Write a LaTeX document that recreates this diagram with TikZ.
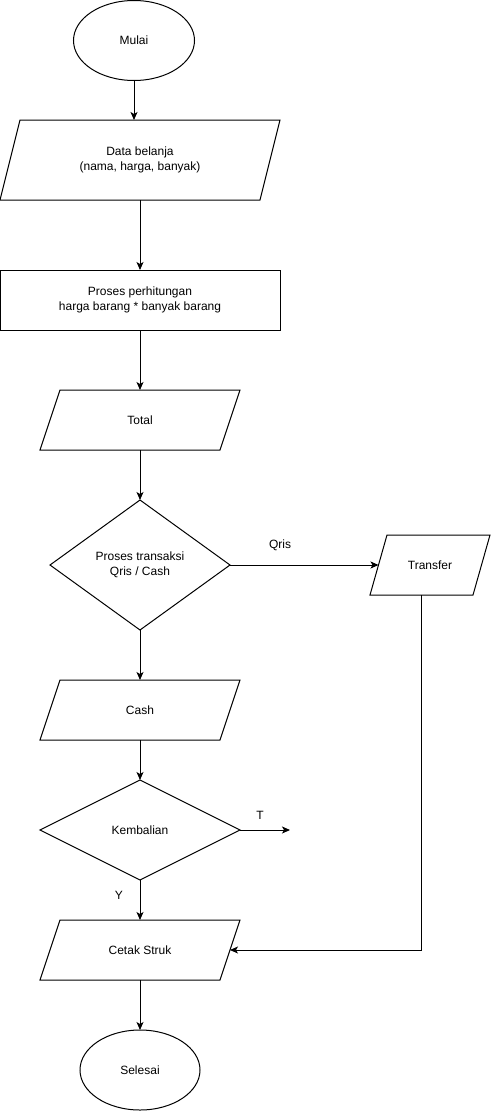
\documentclass[tikz,border=0pt]{standalone}
\usepackage{fontspec}
\setmainfont{Liberation Sans}
\usetikzlibrary{shapes.geometric,arrows.meta}
\newcommand\drawpara[2]{\draw[shapeline] ([xshift=#2]#1.north west) -- ([xshift=#2]#1.north east) -- ([xshift=-#2]#1.south east) -- ([xshift=-#2]#1.south west) -- cycle;}
\begin{document}
\begin{tikzpicture}[x=1pt,y=-1pt,
  every node/.style={font=\fontsize{12}{15}\selectfont, inner sep=0pt, outer sep=0pt, align=center},
  shapeline/.style={draw=black, line width=1pt},
  term/.style={ellipse, draw=black, line width=1pt},
  procbox/.style={rectangle, draw=black, line width=1pt},
  iobox/.style={rectangle, draw=none},
  decision/.style={diamond, draw=black, line width=1pt},
  conn/.style={draw=black, line width=1pt, -{Stealth[length=8pt,width=7pt,inset=2pt]}},
  lbl/.style={font=\fontsize{12}{15}\selectfont}
]
\useasboundingbox (0,0) rectangle (491,1111);
\fill[white] (0,0) rectangle (491,1111);

\node[term, minimum width=121pt, minimum height=80pt] (mulai) at (134,40.5) {Mulai};
\node[iobox, minimum width=260pt, minimum height=80pt] (data) at (140,160) {Data belanja\\(nama, harga, banyak)};
\drawpara{data}{10}
\node[procbox, minimum width=280pt, minimum height=60pt] (proses) at (140,300) {Proses perhitungan\\harga barang * banyak barang};
\node[iobox, minimum width=180pt, minimum height=60pt] (total) at (140,420) {Total};
\drawpara{total}{10}
\node[decision, minimum width=180pt, minimum height=130pt] (trans) at (140,565) {Proses transaksi\\Qris / Cash};
\node[iobox, minimum width=103pt, minimum height=60pt] (transfer) at (430,565) {Transfer};
\drawpara{transfer}{8.5}
\node[iobox, minimum width=180pt, minimum height=60pt] (cash) at (140,710) {Cash};
\drawpara{cash}{10}
\node[decision, minimum width=200pt, minimum height=100pt] (kemb) at (140,830) {Kembalian};
\node[iobox, minimum width=180pt, minimum height=60pt] (cetak) at (140,950) {Cetak Struk};
\drawpara{cetak}{10}
\node[term, minimum width=120pt, minimum height=80pt] (selesai) at (140,1070) {Selesai};

\coordinate (tend) at (290,830);

\draw[conn] (mulai.south) -- (mulai.south |- data.north);
\draw[conn] (data.south) -- (proses.north);
\draw[conn] (proses.south) -- (total.north);
\draw[conn] (total.south) -- (trans.north);
\draw[conn] (trans.east) -- (transfer.west);
\draw[conn] (trans.south) -- (cash.north);
\draw[conn] (cash.south) -- (kemb.north);
\draw[conn] (kemb.east) -- (tend);
\draw[conn] (kemb.south) -- (cetak.north);
\draw[conn] ([xshift=-8.5pt]transfer.south) |- (cetak.east);
\draw[conn] (cetak.south) -- (selesai.north);

\node[lbl] (qris) at (280,545) {Qris};
\node[lbl] (tlbl) at (260,815) {T};
\node[lbl] (ylbl) at (119,895) {Y};
\end{tikzpicture}
\end{document}
